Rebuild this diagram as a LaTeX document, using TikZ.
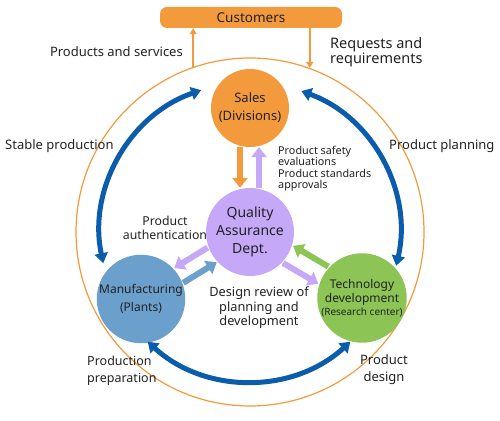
\documentclass[tikz,border=0pt]{standalone}
\usepackage{fontspec}
\setmainfont{Noto Sans}
\usetikzlibrary{arrows.meta}
\definecolor{orangeC}{HTML}{F39A3C}
\definecolor{purpleC}{HTML}{C5A8F7}
\definecolor{mfgC}{HTML}{6B9FCC}
\definecolor{techC}{HTML}{8CC555}
\definecolor{arcC}{HTML}{0B5DAB}
\definecolor{txtC}{HTML}{222222}
\tikzset{
  unit/.style={circle, inner sep=0pt, align=center, text=txtC},
  lbl/.style={inner sep=0pt, text=txtC, font=\fontsize{13}{15}\selectfont},
  thickarr/.style={line width=6pt, -{Triangle[width=15pt,length=10pt]}},
  thinarr/.style={line width=2pt, draw=orangeC, -{Triangle[width=7pt,length=6pt]}},
  bluearc/.style={line width=5pt, draw=arcC, {Triangle[width=13pt,length=10pt]}-{Triangle[width=13pt,length=10pt]}}
}
\begin{document}
\begin{tikzpicture}[x=1pt,y=1pt]
\useasboundingbox (0,0) rectangle (500,420);
% outer ring
\node[circle, draw=orangeC, line width=1.2pt, minimum size=348pt, inner sep=0pt] (ring) at (250,188) {};
% invisible guide ring for blue arcs
\node[circle, minimum size=300pt, inner sep=0pt, outer sep=0pt] (guide) at (250,188) {};
% customers
\node[fill=orangeC, rounded corners=7pt, minimum width=182pt, minimum height=21pt, inner sep=0pt, text=txtC, font=\fontsize{13.5}{15}\selectfont] (cust) at (251,402.5) {Customers};
% units
\node[unit, fill=orangeC, minimum size=78pt, font=\fontsize{13}{18}\selectfont] (sales) at (250,312) {Sales\\(Divisions)};
\node[unit, fill=purpleC, minimum size=88pt, font=\fontsize{14}{18}\selectfont] (qa) at (250,188) {Quality\\Assurance\\Dept.};
\node[unit, fill=mfgC, minimum size=82pt, font=\fontsize{12}{18}\selectfont] (mfg) at (141,121) {Manufacturing\\(Plants)};
\node[unit, fill=techC, minimum size=82pt, font=\fontsize{12}{14}\selectfont] (tech) at (362,122) {Technology\\development\\[-1pt]{\fontsize{10}{12}\selectfont(Research center)}};
% thin arrows to/from customers
\draw[thinarr] (ring.109.1) -- (ring.109.1 |- cust.south);
\draw[thinarr] (ring.70.5 |- cust.south) -- (ring.70.5);
% thick arrows
\draw[thickarr, draw=orangeC, transform canvas={xshift=-10pt}] (sales) -- (qa);
\draw[thickarr, draw=purpleC, transform canvas={xshift=9pt}] (qa) -- (sales);
\draw[thickarr, draw=techC, transform canvas={shift={(5pt,8.6pt)}}] (tech) -- (qa);
\draw[thickarr, draw=purpleC, transform canvas={shift={(-5pt,-8.6pt)}}] (qa) -- (tech);
\draw[thickarr, draw=mfgC, transform canvas={shift={(4.4pt,-7.1pt)}}] (mfg) -- (qa);
\draw[thickarr, draw=purpleC, transform canvas={shift={(-4.7pt,7.6pt)}}] (qa) -- (mfg);
% blue arcs
\draw[bluearc] (guide.109) arc[start angle=109, end angle=192, radius=150pt];
\draw[bluearc] (guide.70) arc[start angle=70, end angle=-13, radius=150pt];
\draw[bluearc] (guide.227.5) arc[start angle=227.5, end angle=312.5, radius=150pt];
% labels
\node[lbl, anchor=east] (lps) at (183,368) {Products and services};
\node[lbl, anchor=west, align=left, font=\fontsize{14.5}{15}\selectfont] (lrr) at (330,367.5) {Requests and\\requirements};
\node[lbl, anchor=west] (lsp) at (5,274) {Stable production};
\node[lbl, anchor=west] (lpp) at (389,274) {Product planning};
\node[lbl, align=center, font=\fontsize{12.3}{14}\selectfont] (lpa) at (165,192) {Product\\authentication};
\node[lbl, anchor=west, align=left, font=\fontsize{10.8}{11}\selectfont] (lse) at (278,264.5) {Product safety\\evaluations};
\node[lbl, anchor=west, align=left, font=\fontsize{10.8}{11}\selectfont] (lsa) at (278,240) {Product standards\\approvals};
\node[lbl, align=center, font=\fontsize{12.8}{14.5}\selectfont] (ldr) at (259,112) {Design review of\\planning and\\development};
\node[lbl, anchor=west, align=left, font=\fontsize{12.5}{17}\selectfont] (lprep) at (87,49.5) {Production\\preparation};
\node[lbl, align=center, font=\fontsize{13}{17}\selectfont] (lpd) at (384,50.5) {Product\\design};
\end{tikzpicture}
\end{document}
